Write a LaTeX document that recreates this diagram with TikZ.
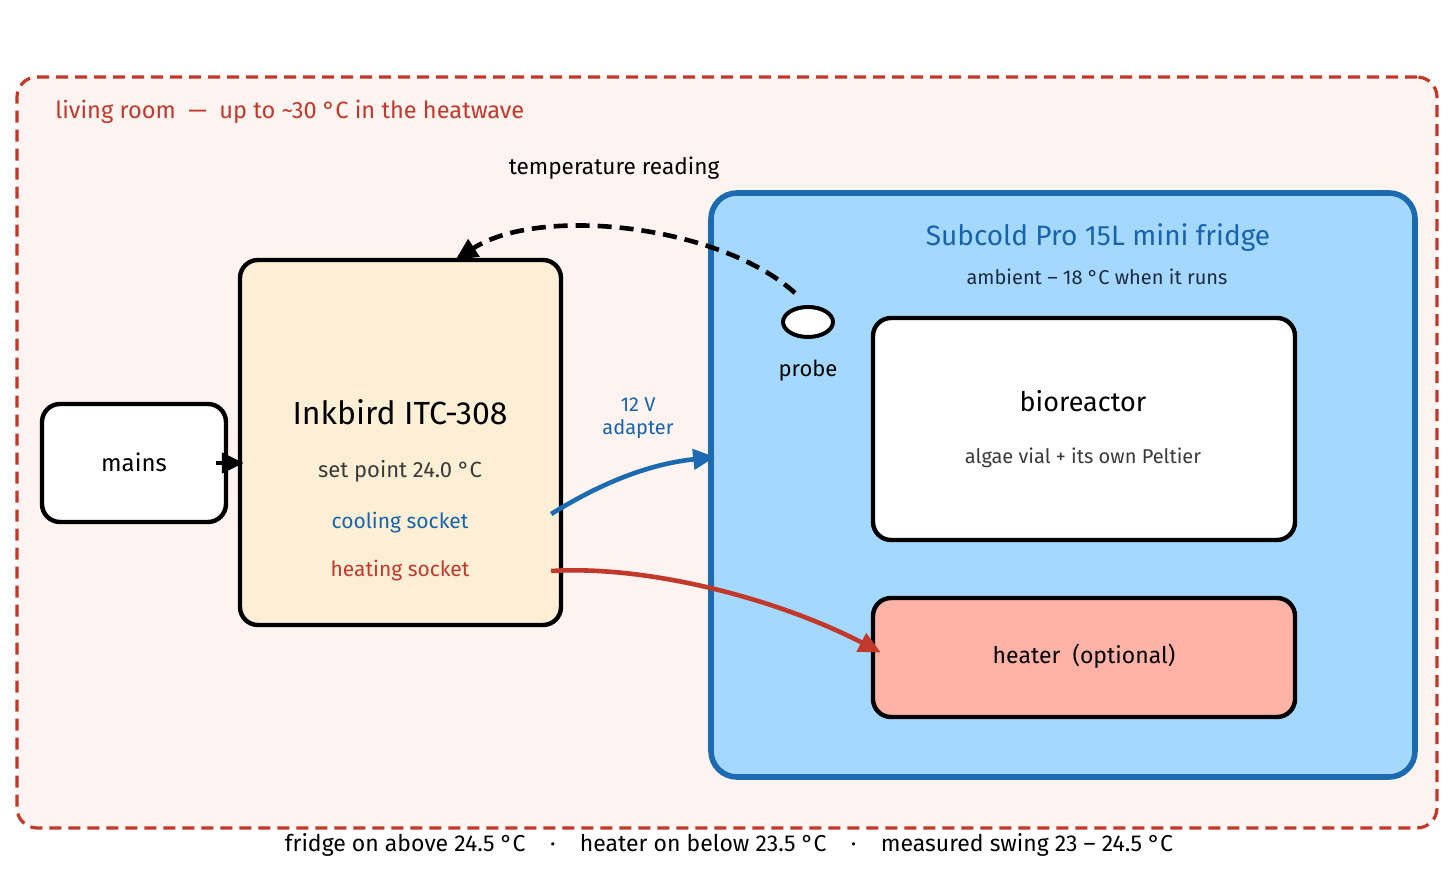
\documentclass[tikz,border=0pt]{standalone}
\usepackage{fontspec}
\setmainfont{Fira Sans}
\usetikzlibrary{arrows.meta,shapes.geometric}
\definecolor{roomfill}{HTML}{FDF3F1}
\definecolor{roomred}{HTML}{C0392B}
\definecolor{fridgefill}{HTML}{A5D8FF}
\definecolor{fridgeblue}{HTML}{1C6AB0}
\definecolor{textblue}{HTML}{1864AB}
\definecolor{inkfill}{HTML}{FDEFD6}
\definecolor{heatfill}{HTML}{FFB3A6}
\definecolor{navy}{HTML}{1B2A41}
\definecolor{greytext}{HTML}{3A3A3A}
\begin{document}
\begin{tikzpicture}[x=0.5pt,y=-0.5pt,
  box/.style={draw=black,line width=2.2pt,rectangle,rounded corners=9pt,inner sep=0pt},
  txt/.style={inner sep=1pt,font=\fontsize{10}{12}\selectfont},
  arr/.style={line width=2.3pt,-{Triangle[length=11pt,width=10pt]}},
]
\useasboundingbox (0,0) rectangle (1456,881);

% living room
\node[rectangle,rounded corners=10pt,fill=roomfill,draw=roomred,line width=1.6pt,
      dash pattern=on 6pt off 3.5pt,minimum width=710pt,minimum height=375.5pt,inner sep=0pt]
      (room) at (727,452.5) {};
\node[txt,anchor=west,text=roomred,font=\fontsize{11.8}{14}\selectfont] (roomlbl) at (53,112)
      {living room\ \ —\ \ up to \textasciitilde30 °C in the heatwave};

% fridge
\node[box,draw=fridgeblue,fill=fridgefill,line width=2.8pt,rounded corners=13pt,
      minimum width=352pt,minimum height=292pt] (fridge) at (1063,485) {};
\node[txt,text=textblue,font=\fontsize{14}{16}\selectfont] (fridgelbl) at (1098,238)
      {Subcold Pro 15L mini fridge};
\node[txt,text=navy] (ambient) at (1097,277) {ambient – 18 °C when it runs};

% probe
\node[ellipse,draw=black,fill=white,line width=2pt,minimum width=25pt,minimum height=15pt,inner sep=0pt]
      (probe) at (808,322) {};
\node[txt,text=black,font=\fontsize{11}{13}\selectfont] (probelbl) at (808,371) {probe};

% bioreactor
\node[box,fill=white,minimum width=211pt,minimum height=111pt] (bio) at (1084,429) {};
\node[txt,font=\fontsize{13.5}{15}\selectfont] (biolbl) at (1083,401) {bioreactor};
\node[txt,text=greytext] (biosub) at (1083,458) {algae vial + its own Peltier};

% heater
\node[box,fill=heatfill,minimum width=211pt,minimum height=59.5pt] (heater) at (1084,657.5) {};
\node[txt,font=\fontsize{11.5}{13}\selectfont] (heatlbl) at (1084,656) {heater\ \ (optional)};

% inkbird
\node[box,fill=inkfill,minimum width=160.5pt,minimum height=182.5pt] (ink) at (400.5,442.5) {};
\node[txt,font=\fontsize{16}{18}\selectfont] (inklbl) at (400,412) {Inkbird ITC-308};
\node[txt,text=greytext,font=\fontsize{11}{13}\selectfont] (setpt) at (400,471) {set point 24.0 °C};
\node[txt,text=textblue,font=\fontsize{10.5}{12}\selectfont] (cool) at (400,523) {cooling socket};
\node[txt,text=roomred,font=\fontsize{10.5}{12}\selectfont] (heat) at (400,571) {heating socket};

% mains
\node[box,fill=white,minimum width=92pt,minimum height=59pt] (mains) at (134,463) {};
\node[txt,font=\fontsize{12}{14}\selectfont] (mainslbl) at (134,462) {mains};

% labels
\node[txt,text=black,font=\fontsize{11.3}{13}\selectfont] (templbl) at (614,168) {temperature reading};
\node[txt,text=textblue,align=center,font=\fontsize{10}{11.5}\selectfont] (adapt) at (638,418) {12 V\\adapter};
\node[txt,text=black,font=\fontsize{11.5}{13}\selectfont] (caption) at (729,845)
      {fridge on above 24.5 °C\ \ \ \ ·\ \ \ \ heater on below 23.5 °C\ \ \ \ ·\ \ \ \ measured swing 23 – 24.5 °C};

% connectors
\draw[arr,black] ([xshift=-6pt]mains.east) -- ([xshift=3pt]mains.east -| ink.west);
\draw[arr,fridgeblue] ([xshift=-6pt]ink.east |- 0,514) .. controls (590,490) and (640,465) .. ([xshift=3.5pt]fridge.west |- 0,457);
\draw[arr,roomred] ([xshift=-6pt]ink.east |- 0,571) .. controls (650,565) and (780,600) .. ([shift={(10,-5)}]heater.west);
\draw[arr,black,line width=2.3pt,dash pattern=on 7pt off 4pt] ([shift={(-13,-12)}]probe.north) .. controls (720,225) and (540,205) .. ([shift={(55,2)}]ink.north);
\end{tikzpicture}
\end{document}
